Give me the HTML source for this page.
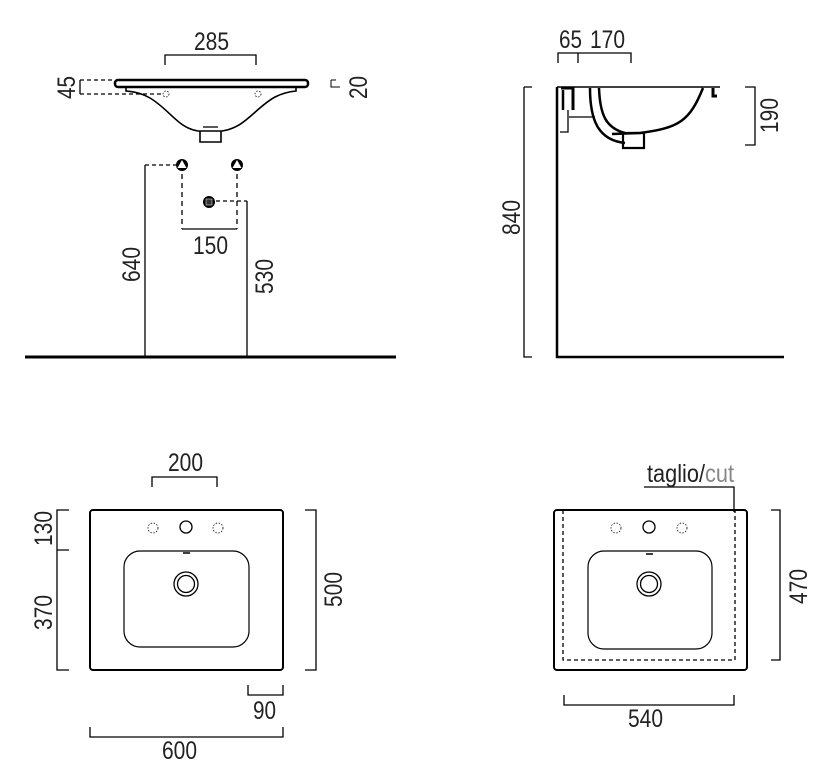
<!DOCTYPE html>
<html><head><meta charset="utf-8"><style>
html,body{margin:0;padding:0;background:#fff;}
svg{display:block;}
text{font-family:"Liberation Sans Narrow","Liberation Sans",sans-serif;font-size:25px;fill:#222;}
</style></head><body>
<svg width="834" height="781" viewBox="0 0 834 781" xmlns="http://www.w3.org/2000/svg">
<g fill="none" stroke="#000" stroke-width="1.3">
<!-- ===== Front elevation ===== -->
<path d="M165 65 V55 H256 V65"/>
<rect x="115" y="80" width="193" height="7" rx="3" stroke-width="2.5"/>
<path d="M126 88 V91 Q140 92 150 98 C170 110 178 128 198 131 H222 C245 128 255 108 275 97 Q285 92 296 91 V88" stroke-width="1.6"/>
<path d="M200 131 V142 H221 V131" stroke-width="1.6"/>
<path d="M203 127 H218"/>
<circle cx="166" cy="94" r="3" stroke-dasharray="1.5 1.5" stroke-width="0.8"/>
<circle cx="258" cy="94" r="3" stroke-dasharray="1.5 1.5" stroke-width="0.8"/>
<path d="M80 80 V94"/>
<path d="M80 80 H115 M80 94 H163" stroke-dasharray="4 3"/>
<path d="M331 80 V87 H340 M331 80 H336" stroke-width="1"/>
<!-- pipes -->
<path d="M145 357 V165"/>
<path d="M145 165 H182" stroke-dasharray="4 3"/>
<path d="M182 165 V229 M237 165 V229" stroke-dasharray="5 4"/>
<path d="M182 229 H237"/>
<path d="M209 201 H247" stroke-dasharray="4 3"/>
<path d="M247 201 V357"/>
<path d="M25 357 H396" stroke-width="3"/>
<!-- ===== Side section ===== -->
<path d="M558 63 V53 H631 V63 M578 53 V63"/>
<path d="M524 87 H532 M524 87 V357 H532"/>
<path d="M557 87 V357 H784" stroke-width="2.5"/>
<path d="M745 87 H755 V145 H745"/>
<path d="M557 87 H720" stroke-width="1.5"/>
<path d="M703 88 C690 120 680 128 640 133 L612 134" stroke-width="2.5"/>
<path d="M590 88 C590 120 598 140 625 143" stroke-width="2.5"/>
<path d="M599 88 C600 115 606 128 625 133" stroke-width="2.5"/>
<path d="M623 133 H644 V148 H623 Z" stroke-width="2.2"/>
<path d="M561 88 H573 V110" stroke-width="3"/>
<path d="M563 90 V110" stroke-width="2.5"/>
<path d="M569 117 H595 M568 110 V132 H560"/>
<path d="M713 88 V96 H717" stroke-width="3"/>
<!-- ===== Plan left ===== -->
<path d="M152 487 V477 H217 V487"/>
<rect x="90" y="510" width="193" height="160" rx="3" stroke-width="2"/>
<rect x="124" y="551" width="125" height="96" rx="16" stroke-width="1.2"/>
<circle cx="186" cy="584" r="12"/>
<circle cx="186" cy="584" r="8.5"/>
<path d="M183 553 H190" stroke-width="1.5"/>
<circle cx="153" cy="528" r="5" stroke-dasharray="1.5 1.5" stroke-width="0.8"/>
<circle cx="186" cy="527" r="6"/>
<circle cx="218" cy="528" r="5" stroke-dasharray="1.5 1.5" stroke-width="0.8"/>
<path d="M69 510 H57 V670 H69 M57 550 H69"/>
<path d="M305 510 H316 V670 H305"/>
<path d="M248 685 V695 H283 V685"/>
<path d="M90 727 V737 H283 V727"/>
<!-- ===== Plan right ===== -->
<rect x="554" y="510" width="193" height="160" rx="3" stroke-width="2"/>
<path d="M563 510 V660 H735 V510" stroke-dasharray="4 3"/>
<rect x="588" y="551" width="124" height="98" rx="16" stroke-width="1.2"/>
<circle cx="649" cy="584" r="12"/>
<circle cx="649" cy="584" r="8.5"/>
<path d="M646 554 H653" stroke-width="1.5"/>
<circle cx="616" cy="528" r="5" stroke-dasharray="1.5 1.5" stroke-width="0.8"/>
<circle cx="649" cy="527" r="6"/>
<circle cx="682" cy="528" r="5" stroke-dasharray="1.5 1.5" stroke-width="0.8"/>
<path d="M644 487 H734 V512"/>
<path d="M771 510 H780 V660 H771"/>
<path d="M564 695 V705 H734 V695"/>
</g>
<!-- pipe symbols -->
<g>
<circle cx="182" cy="165" r="6" fill="#000"/>
<path d="M182 160 L186.5 168 H177.5 Z" fill="#fff"/>
<circle cx="237" cy="165" r="6" fill="#000"/>
<path d="M237 160 L241.5 168 H232.5 Z" fill="#fff"/>
<circle cx="209" cy="202" r="6" fill="#000"/>
<rect x="206" y="199" width="6" height="6" fill="#333" stroke="#fff" stroke-width="0.5"/>
</g>
<!-- texts -->
<g>
<text x="194" y="50" textLength="35" lengthAdjust="spacingAndGlyphs">285</text>
<text transform="translate(75,99) rotate(-90)" textLength="23" lengthAdjust="spacingAndGlyphs">45</text>
<text transform="translate(367,99) rotate(-90)" textLength="23" lengthAdjust="spacingAndGlyphs">20</text>
<text x="193" y="254" textLength="35" lengthAdjust="spacingAndGlyphs">150</text>
<text transform="translate(140,282) rotate(-90)" textLength="35" lengthAdjust="spacingAndGlyphs">640</text>
<text transform="translate(273,294) rotate(-90)" textLength="35" lengthAdjust="spacingAndGlyphs">530</text>
<text x="559" y="48" textLength="23" lengthAdjust="spacingAndGlyphs">65</text>
<text x="590" y="48" textLength="35" lengthAdjust="spacingAndGlyphs">170</text>
<text transform="translate(520,235) rotate(-90)" textLength="35" lengthAdjust="spacingAndGlyphs">840</text>
<text transform="translate(778,133) rotate(-90)" textLength="35" lengthAdjust="spacingAndGlyphs">190</text>
<text x="168" y="471" textLength="35" lengthAdjust="spacingAndGlyphs">200</text>
<text transform="translate(52,546) rotate(-90)" textLength="35" lengthAdjust="spacingAndGlyphs">130</text>
<text transform="translate(52,630) rotate(-90)" textLength="35" lengthAdjust="spacingAndGlyphs">370</text>
<text transform="translate(342,607) rotate(-90)" textLength="35" lengthAdjust="spacingAndGlyphs">500</text>
<text x="253" y="719" textLength="23" lengthAdjust="spacingAndGlyphs">90</text>
<text x="162" y="759" textLength="35" lengthAdjust="spacingAndGlyphs">600</text>
<text x="647" y="482" textLength="87" lengthAdjust="spacingAndGlyphs">taglio/<tspan fill="#888">cut</tspan></text>
<text transform="translate(807,604) rotate(-90)" textLength="35" lengthAdjust="spacingAndGlyphs">470</text>
<text x="628" y="727" textLength="35" lengthAdjust="spacingAndGlyphs">540</text>
</g>
</svg>
</body></html>
